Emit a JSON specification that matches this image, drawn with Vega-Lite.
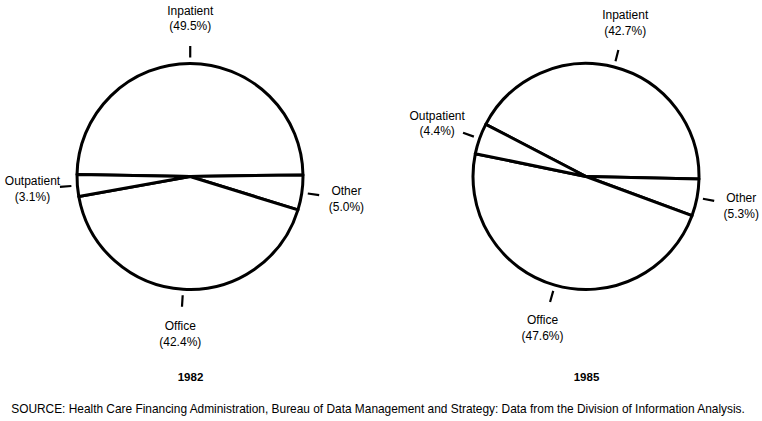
{
  "$schema": "https://vega.github.io/schema/vega-lite/v6.json",
  "width": 762,
  "height": 353,
  "autosize": {"type": "none"},
  "padding": {"left": 0, "top": 0, "right": 0, "bottom": 68},
  "background": "white",
  "title": {
    "text": "SOURCE: Health Care Financing Administration, Bureau of Data Management and Strategy: Data from the Division of Information Analysis.",
    "orient": "bottom",
    "anchor": "middle",
    "offset": 21,
    "dx": -3,
    "font": "Liberation Sans",
    "fontSize": 11.9,
    "fontWeight": "normal",
    "color": "black"
  },
  "data": {
    "values": [
      {"year": "1982", "category": "Inpatient", "share": 49.5, "seq": 1},
      {"year": "1982", "category": "Other", "share": 5.0, "seq": 2},
      {"year": "1982", "category": "Office", "share": 42.4, "seq": 3},
      {"year": "1982", "category": "Outpatient", "share": 3.1, "seq": 4},
      {"year": "1985", "category": "Inpatient", "share": 42.7, "seq": 1},
      {"year": "1985", "category": "Other", "share": 5.3, "seq": 2},
      {"year": "1985", "category": "Office", "share": 47.6, "seq": 3},
      {"year": "1985", "category": "Outpatient", "share": 4.4, "seq": 4}
    ]
  },
  "transform": [
    {"calculate": "datum.category + '\\n(' + format(datum.share, '.1f') + '%)'", "as": "label"}
  ],
  "encoding": {
    "x": {
      "field": "year",
      "type": "ordinal",
      "scale": {"type": "point", "range": [190, 586], "padding": 0},
      "axis": {
        "title": null,
        "ticks": false,
        "domain": false,
        "grid": false,
        "labelAngle": 0,
        "labelFont": "Liberation Sans",
        "labelFontWeight": "bold",
        "labelFontSize": 11.5,
        "labelColor": "black",
        "labelPadding": 18
      }
    }
  },
  "layer": [
    {
      "transform": [{"filter": "datum.year == '1982'"}],
      "encoding": {
        "theta": {"field": "share", "type": "quantitative", "stack": true, "scale": {"range": [-1.5533, 4.7299]}},
        "order": {"field": "seq", "type": "quantitative"},
        "detail": {"field": "category", "type": "nominal"}
      },
      "layer": [
        {"mark": {"type": "arc", "outerRadius": 113, "fill": "white", "stroke": "black", "strokeWidth": 3, "strokeJoin": "round"}},
        {"mark": {"type": "arc", "innerRadius": 119, "outerRadius": 130.5, "padAngle": 3.14159, "filled": false, "color": "black", "strokeWidth": 2.2}},
        {"mark": {"type": "text", "radius": 158, "dy": -8, "align": "center", "baseline": "middle", "lineBreak": "\n", "font": "Liberation Sans", "fontSize": 12, "lineHeight": 15.5, "color": "black"},
         "encoding": {"text": {"field": "label"}}}
      ]
    },
    {
      "transform": [{"filter": "datum.year == '1985'"}],
      "encoding": {
        "theta": {"field": "share", "type": "quantitative", "stack": true, "scale": {"range": [-1.0908, 5.1924]}},
        "order": {"field": "seq", "type": "quantitative"},
        "detail": {"field": "category", "type": "nominal"}
      },
      "layer": [
        {"mark": {"type": "arc", "outerRadius": 113, "fill": "white", "stroke": "black", "strokeWidth": 3, "strokeJoin": "round"}},
        {"mark": {"type": "arc", "innerRadius": 119, "outerRadius": 130.5, "padAngle": 3.14159, "filled": false, "color": "black", "strokeWidth": 2.2}},
        {"mark": {"type": "text", "radius": 158, "dy": -8, "align": "center", "baseline": "middle", "lineBreak": "\n", "font": "Liberation Sans", "fontSize": 12, "lineHeight": 15.5, "color": "black"},
         "encoding": {"text": {"field": "label"}}}
      ]
    }
  ],
  "resolve": {"scale": {"theta": "independent"}},
  "config": {"view": {"stroke": null}}
}
